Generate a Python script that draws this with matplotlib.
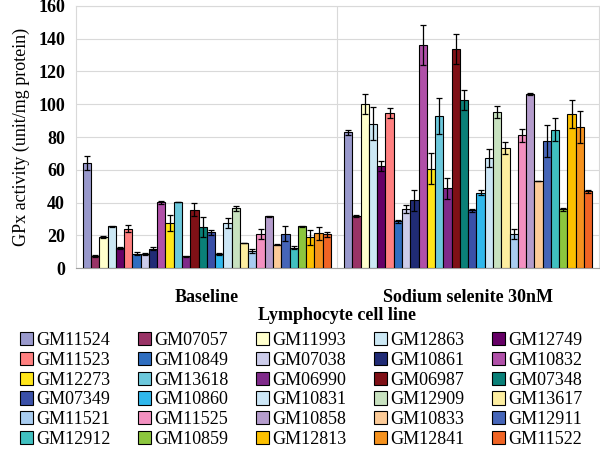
import matplotlib
matplotlib.use("Agg")
import matplotlib.pyplot as plt
import numpy as np

cell_lines = ["GM11524", "GM07057", "GM11993", "GM12863", "GM12749",
              "GM11523", "GM10849", "GM07038", "GM10861", "GM10832",
              "GM12273", "GM13618", "GM06990", "GM06987", "GM07348",
              "GM07349", "GM10860", "GM10831", "GM12909", "GM13617",
              "GM11521", "GM11525", "GM10858", "GM10833", "GM12911",
              "GM12912", "GM10859", "GM12813", "GM12841", "GM11522"]
colors = ["#9999cc", "#993366", "#ffffcc", "#cce8f4", "#660066",
          "#ff8080", "#2f6ec0", "#ccccea", "#202b75", "#b050a8",
          "#ffe61a", "#6cc8dc", "#7f2a8a", "#7f1016", "#0a8078",
          "#3a50a8", "#30b8ec", "#cce6f6", "#c8e2c0", "#fdeea0",
          "#a8ccf0", "#f390c0", "#b49ccc", "#fccb98", "#4565b8",
          "#40c0c0", "#8cc63e", "#fcc000", "#f5921e", "#f06424"]
groups = ["Baseline", "Sodium selenite 30nM"]

baseline = [64.2, 7.3, 18.8, 25.5, 12.3, 24.1, 8.9, 8.7, 11.9, 40.1,
            27.7, 40.3, 7.3, 35.6, 25.3, 22.0, 8.7, 27.5, 36.5, 15.4,
            10.5, 21.0, 31.6, 14.3, 21.0, 12.5, 25.7, 18.8, 21.3, 20.7]
baseline_err = [4.5, 0.5, 0.6, 0.3, 0.6, 2.0, 0.8, 0.5, 0.8, 1.0,
                5.0, 0.2, 0.2, 4.0, 6.0, 1.5, 0.4, 3.0, 1.5, 0.2,
                1.5, 3.0, 0.3, 0.2, 4.5, 1.0, 0.3, 4.5, 4.0, 1.5]
selenite = [83.0, 32.0, 100.3, 88.1, 62.2, 94.6, 28.6, 36.0, 41.3, 136.2,
            60.8, 92.8, 48.8, 133.7, 102.7, 35.3, 46.0, 67.5, 95.4, 73.3,
            20.7, 81.0, 106.1, 53.1, 77.6, 84.5, 35.9, 94.0, 86.1, 46.8]
selenite_err = [1.5, 0.5, 6.0, 10.0, 3.0, 3.0, 1.0, 2.5, 6.5, 12.0,
                9.5, 11.0, 6.5, 9.0, 6.0, 1.0, 1.5, 5.5, 3.5, 3.5,
                3.0, 4.0, 0.5, 0.2, 10.0, 7.0, 1.0, 8.5, 9.5, 1.0]

plt.rcParams['font.family'] = ['Liberation Serif', 'DejaVu Serif']

fig = plt.figure(figsize=(6, 4.5), dpi=100)
ax = fig.add_axes([0.127, 0.404, 0.871, 0.583])

n = len(cell_lines)
width = 0.95 / n
x = np.arange(len(groups))
handles = []
for i in range(n):
    pos = x - 0.475 + width * (i + 0.5)
    b = ax.bar(pos, [baseline[i], selenite[i]], width, color=colors[i],
               edgecolor="black", linewidth=0.8, label=cell_lines[i], zorder=3,
               yerr=[baseline_err[i], selenite_err[i]],
               error_kw=dict(ecolor="black", elinewidth=0.9, capsize=2, capthick=0.9))
    handles.append(b)

ax.set_xlim(-0.5, 1.5)
ax.set_ylim(0, 160)
ax.set_yticks(np.arange(0, 161, 20))
ax.set_yticklabels([str(v) for v in range(0, 161, 20)], fontsize=13, fontweight="bold")
ax.set_xticks(x)
ax.set_xticklabels(groups, fontsize=13, fontweight="bold")
ax.tick_params(axis="x", length=0, pad=15)
ax.tick_params(axis="y", length=0, pad=8)
ax.yaxis.grid(True, color="#d9d9d9", linewidth=0.8, zorder=0)
ax.axvline(0.5, color="#d9d9d9", linewidth=0.8, zorder=0)
for s in ["left", "top", "right"]:
    ax.spines[s].set_color("#d9d9d9")
ax.spines["bottom"].set_color("#a0a0a0")

ax.set_ylabel("GPx activity (unit/mg protein)", fontsize=13, labelpad=6)
ax.set_xlabel("Lymphocyte cell line", fontsize=13, fontweight="bold", labelpad=1)

# legend reads row by row, matplotlib fills column by column
order = [i for j in range(5) for i in range(j, n, 5)]
fig.legend([handles[i] for i in order], [cell_lines[i] for i in order],
           loc="upper left", bbox_to_anchor=(0.033, 0.262), ncol=5,
           frameon=False, fontsize=13, handlelength=0.75, handleheight=0.75,
           handletextpad=0.15, columnspacing=1.52, labelspacing=0.15,
           borderpad=0, borderaxespad=0)

fig.savefig("out.png", dpi=100)
